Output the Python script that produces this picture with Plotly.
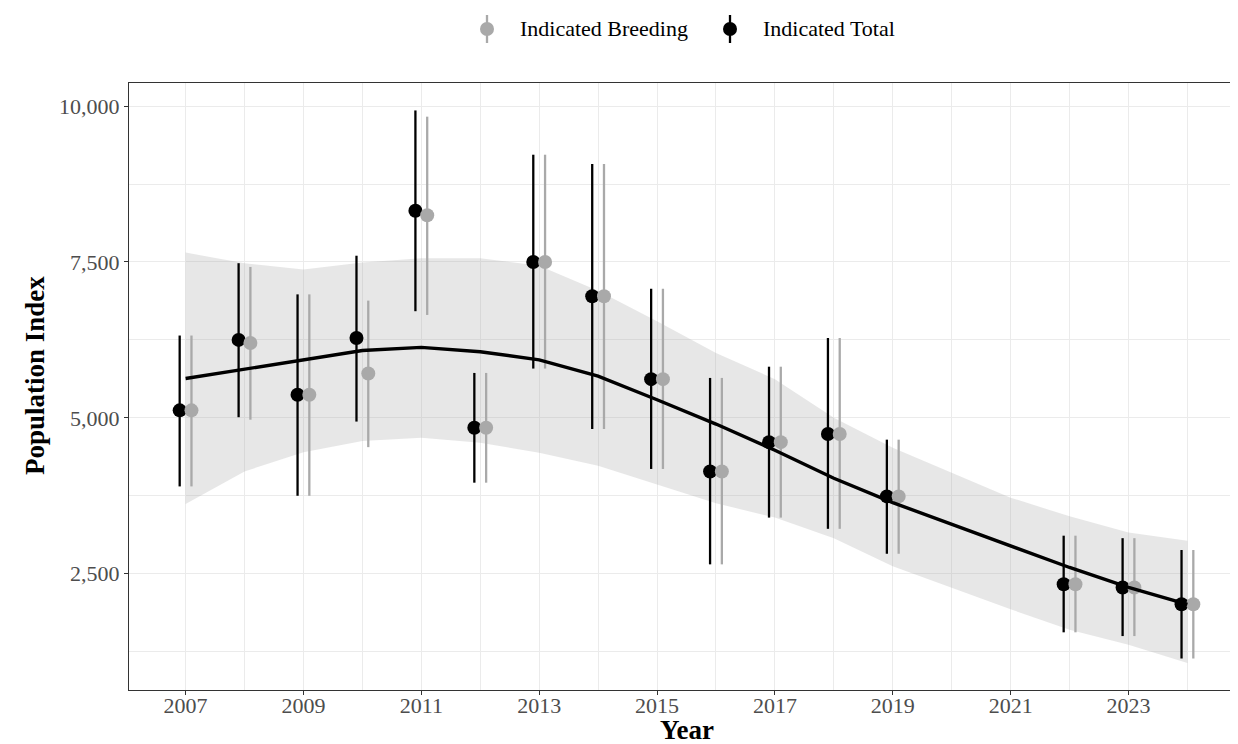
import plotly.graph_objects as go

# ---- data ----
years = [2007, 2008, 2009, 2010, 2011, 2012, 2013, 2014, 2015, 2016, 2017, 2018, 2019, 2022, 2023, 2024]
total = [5120, 6250, 5370, 6280, 8320, 4840, 7500, 6950, 5620, 4140, 4610, 4740, 3740, 2330, 2280, 2010]
total_lo = [3900, 5010, 3750, 4940, 6710, 3960, 5790, 4820, 4180, 2650, 3400, 3220, 2820, 1560, 1500, 1140]
total_hi = [6320, 7480, 6980, 7600, 9930, 5720, 9220, 9070, 7070, 5640, 5820, 6280, 4650, 3110, 3070, 2880]
breeding = [5120, 6200, 5370, 5710, 8250, 4840, 7500, 6950, 5620, 4140, 4610, 4740, 3740, 2330, 2280, 2010]
breeding_lo = [3900, 4970, 3750, 4530, 6650, 3960, 5790, 4820, 4180, 2650, 3400, 3220, 2820, 1560, 1500, 1140]
breeding_hi = [6320, 7420, 6980, 6880, 9830, 5720, 9220, 9070, 7070, 5640, 5820, 6280, 4650, 3110, 3070, 2880]

fit_years = [2007, 2008, 2009, 2010, 2011, 2012, 2013, 2014, 2015, 2016, 2017, 2018, 2019, 2020, 2021, 2022, 2023, 2024]
fit = [5630, 5780, 5930, 6080, 6130, 6060, 5930, 5670, 5290, 4900, 4480, 4030, 3640, 3290, 2940, 2600, 2280, 2010]
band_lo = [3620, 4140, 4450, 4630, 4680, 4600, 4440, 4230, 3930, 3630, 3400, 3070, 2620, 2270, 1930, 1600, 1360, 1070]
band_hi = [7650, 7480, 7380, 7490, 7560, 7560, 7440, 7040, 6550, 6040, 5620, 5000, 4520, 4120, 3720, 3420, 3160, 3030]

dodge = 0.1
x_ticks = [2007, 2009, 2011, 2013, 2015, 2017, 2019, 2021, 2023]
y_ticks = [2500, 5000, 7500, 10000]
y_tick_text = ["2,500", "5,000", "7,500", "10,000"]

FONT = "Liberation Serif, Times New Roman, serif"
GRAY = "#A9A9A9"
BLACK = "#000000"

fig = go.Figure()

# ribbon
fig.add_trace(go.Scatter(x=fit_years, y=band_lo, mode="lines", line=dict(width=0),
                         showlegend=False, hoverinfo="skip"))
fig.add_trace(go.Scatter(x=fit_years, y=band_hi, mode="lines", line=dict(width=0),
                         fill="tonexty", fillcolor="rgba(153,153,153,0.24)",
                         showlegend=False, hoverinfo="skip"))

def pointrange(xs, ys, lo, hi, color, name, shift):
    return go.Scatter(
        x=[x + shift for x in xs], y=ys, mode="markers", name=name,
        marker=dict(color=color, size=14, line=dict(width=0)),
        error_y=dict(type="data", symmetric=False,
                     array=[h - y for h, y in zip(hi, ys)],
                     arrayminus=[y - l for y, l in zip(ys, lo)],
                     color=color, thickness=2.3, width=0),
        showlegend=False,
    )

fig.add_trace(pointrange(years, total, total_lo, total_hi, BLACK, "Indicated Total", -dodge))
fig.add_trace(pointrange(years, breeding, breeding_lo, breeding_hi, GRAY, "Indicated Breeding", dodge))

# smooth fit line
fig.add_trace(go.Scatter(x=fit_years, y=fit, mode="lines", line=dict(color="black", width=3.4),
                         showlegend=False, hoverinfo="skip"))

# ---- layout ----
L, R, T, B = 121, 2, 75, 62
W, H = 1238, 744
pw, ph = W - L - R, H - T - B

def px_x(px):
    return (px - L) / pw

def px_y(py):
    return (H - B - py) / ph

fig.update_layout(
    width=W, height=H,
    margin=dict(l=L, r=R, t=T, b=B),
    paper_bgcolor="white", plot_bgcolor="white",
    font=dict(family=FONT, color="#4D4D4D"),
    showlegend=False,
    xaxis=dict(range=[2006.04, 2024.96], tickvals=x_ticks, ticktext=[str(v) for v in x_ticks],
               showgrid=True, gridcolor="#EBEBEB", gridwidth=1.3,
               minor=dict(dtick=1, tick0=2007, showgrid=True, gridcolor="#EBEBEB", gridwidth=0.8, ticks=""),
               zeroline=False, showline=True, mirror=True, linecolor="#333333", linewidth=1.1,
               ticks="outside", ticklen=4, tickwidth=1.1, tickcolor="#333333",
               ticklabelstandoff=-8,
               tickfont=dict(family=FONT, size=22, color="#4D4D4D")),
    yaxis=dict(range=[635, 10370], tickvals=y_ticks, ticktext=y_tick_text,
               showgrid=True, gridcolor="#EBEBEB", gridwidth=1.3,
               minor=dict(dtick=1250, tick0=0, showgrid=True, gridcolor="#EBEBEB", gridwidth=0.8, ticks=""),
               zeroline=False, showline=True, mirror=True, linecolor="#333333", linewidth=1.1,
               ticks="outside", ticklen=4, tickwidth=1.1, tickcolor="#333333",
               tickfont=dict(family=FONT, size=22, color="#4D4D4D")),
)

annotations = [
    dict(text="<b>Year</b>", x=0.5, y=px_y(722), xref="paper", yref="paper",
         xanchor="center", yanchor="middle", showarrow=False,
         font=dict(family=FONT, size=27, color="black")),
    dict(text="<b>Population Index</b>", x=px_x(27), y=px_y(368), xref="paper", yref="paper",
         xanchor="center", yanchor="middle", textangle=-90, showarrow=False,
         font=dict(family=FONT, size=27, color="black")),
]

# manual legend (pointrange glyphs)
legend_items = [("Indicated Breeding", GRAY, 479, 510), ("Indicated Total", BLACK, 722, 753)]
shapes = []
ly = 21
for label, color, gx, tx in legend_items:
    shapes.append(dict(type="line", xref="paper", yref="paper",
                       x0=px_x(gx), x1=px_x(gx), y0=px_y(ly - 14), y1=px_y(ly + 14),
                       line=dict(color=color, width=2.3)))
    shapes.append(dict(type="circle", xref="paper", yref="paper",
                       xsizemode="pixel", ysizemode="pixel",
                       xanchor=px_x(gx), yanchor=px_y(ly),
                       x0=-7, x1=7, y0=-7, y1=7,
                       fillcolor=color, line=dict(width=0)))
    annotations.append(dict(text=label, x=px_x(tx), y=px_y(ly), xref="paper", yref="paper",
                            xanchor="left", yanchor="middle", showarrow=False,
                            font=dict(family=FONT, size=22, color="black")))

fig.update_layout(annotations=annotations, shapes=shapes)

fig.write_html("out.html")
